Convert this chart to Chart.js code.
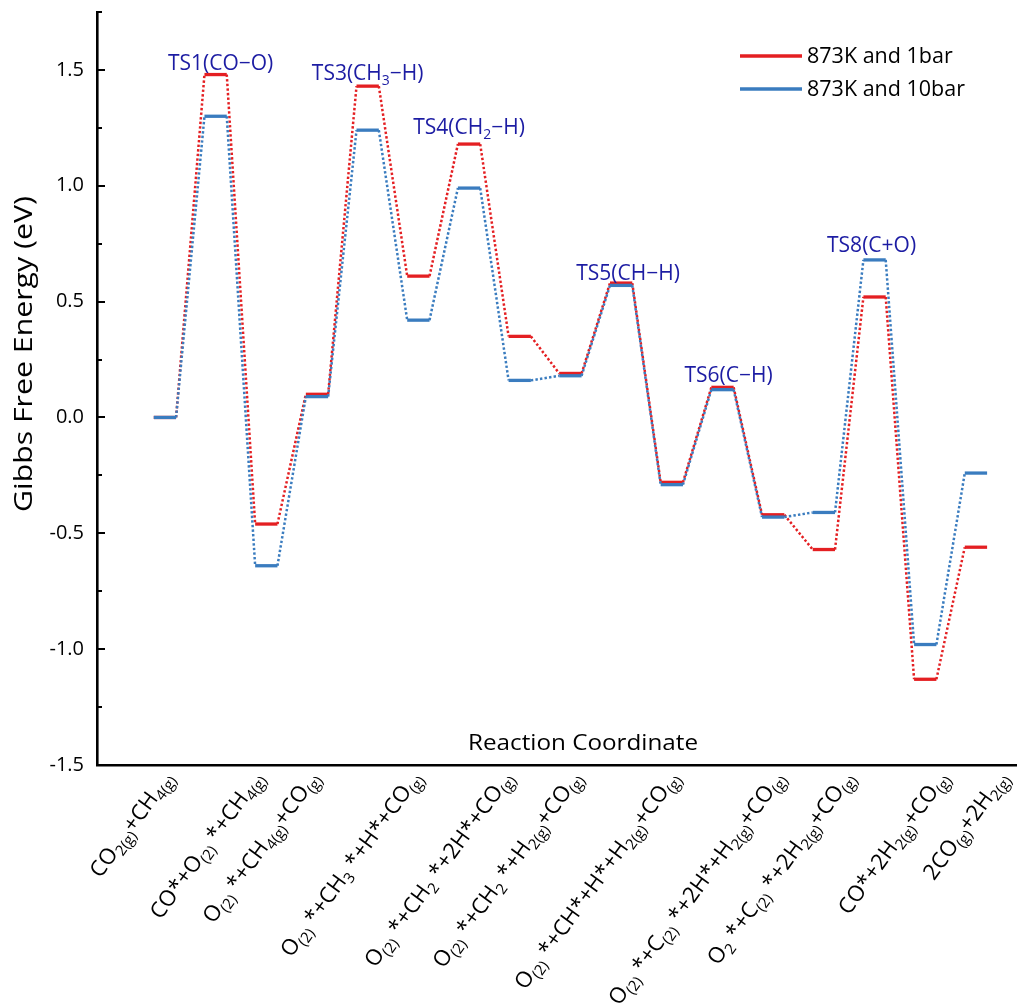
<!DOCTYPE html>
<html><head><meta charset="utf-8">
<script src="https://cdn.jsdelivr.net/npm/chart.js@4/dist/chart.umd.min.js"></script>
<style>html,body{margin:0;padding:0;background:#fff}#wrap{width:1017px;height:1005px}</style>
</head><body><div id="wrap"><canvas id="c" width="1017" height="1005"></canvas></div>
<script>
// ---------------- data ----------------
const stepLabels = [
  'CO_{2(g)}+CH_{4(g)}',
  'TS1(CO−O)',
  'CO*+O_{(2)} *+CH_{4(g)}',
  'O_{(2)} *+CH_{4(g)}+CO_{(g)}',
  'TS3(CH_3−H)',
  'O_{(2)} *+CH_3 *+H*+CO_{(g)}',
  'TS4(CH_2−H)',
  'O_{(2)} *+CH_2 *+2H*+CO_{(g)}',
  'O_{(2)} *+CH_2 *+H_{2(g)}+CO_{(g)}',
  'TS5(CH−H)',
  'O_{(2)} *+CH*+H*+H_{2(g)}+CO_{(g)}',
  'TS6(C−H)',
  'O_{(2)} *+C_{(2)} *+2H*+H_{2(g)}+CO_{(g)}',
  'O_2 *+C_{(2)} *+2H_{2(g)}+CO_{(g)}',
  'TS8(C+O)',
  'CO*+2H_{2(g)}+CO_{(g)}',
  '2CO_{(g)}+2H_{2(g)}'
];
const energy1bar  = [0.00, 1.48, -0.46, 0.10, 1.43, 0.61, 1.18, 0.35, 0.19, 0.58, -0.28, 0.13, -0.42, -0.57, 0.52, -1.13, -0.56];
const energy10bar = [0.00, 1.30, -0.64, 0.09, 1.24, 0.42, 0.99, 0.16, 0.18, 0.57, -0.29, 0.12, -0.43, -0.41, 0.68, -0.98, -0.24];
const seriesNames = ['873K and 1bar', '873K and 10bar'];
const yTickValues = [-1.5, -1.0, -0.5, 0.0, 0.5, 1.0, 1.5];
const yTitle = 'Gibbs Free Energy (eV)';
const xTitle = 'Reaction Coordinate';

// ---------------- style ----------------
const RED = '#e41f22', BLUE = '#3a7cbf', TSCOL = '#1c1ca3';
const FONT = '"Open Sans", "DejaVu Sans", sans-serif';
const HALF = 0.22;               // half width of an energy level (x units)
const labelDx = [7,0,-4,1,0,2,0,-8,10,0,6,0,10,29,0,22,31]; // nudges of state labels (px)
const tsOffset = {1:[5,-12],4:[0,-13],6:[0,-17],9:[7,-10],11:[6,-12],14:[-3,-15]};

function levelPoints(vals){
  const pts = [];
  vals.forEach((v,i)=>{ pts.push({x:i-HALF,y:v}); pts.push({x:i+HALF,y:v}); });
  return pts;
}
const segStyle = {
  borderDash: ctx => ctx.p0DataIndex % 2 === 0 ? [] : [2.4, 2.2],
  borderWidth: ctx => ctx.p0DataIndex % 2 === 0 ? 3.3 : 2.5
};

function parseRich(s){
  const parts=[]; let i=0, buf='';
  while(i<s.length){
    if(s[i]==='_'){
      if(buf){parts.push({t:buf,sub:false});buf='';}
      if(s[i+1]==='{'){const j=s.indexOf('}',i);parts.push({t:s.slice(i+2,j),sub:true});i=j+1;}
      else{parts.push({t:s[i+1],sub:true});i+=2;}
    } else {buf+=s[i];i++;}
  }
  if(buf)parts.push({t:buf,sub:false});
  return parts;
}
const SUBR = 0.66, SUBOFF = 0.22;
function richWidth(ctx,parts,size){
  let w=0;
  parts.forEach(p=>{ctx.font=(p.sub?Math.round(size*SUBR):size)+'px '+FONT;w+=ctx.measureText(p.t).width;});
  return w;
}
function drawRich(ctx,parts,x,y,size){
  let cx=x;
  ctx.textAlign='left';ctx.textBaseline='alphabetic';
  parts.forEach(p=>{
    ctx.font=(p.sub?Math.round(size*SUBR):size)+'px '+FONT;
    ctx.fillText(p.t,cx,y+(p.sub?size*SUBOFF:0));
    cx+=ctx.measureText(p.t).width;
  });
}
function fitText(ctx,text,x,y,size,target){
  ctx.font=size+'px '+FONT;
  const w=ctx.measureText(text).width;
  ctx.save();ctx.translate(x,y);ctx.scale(target/w,1);
  ctx.textAlign='center';ctx.textBaseline='alphabetic';
  ctx.fillText(text,0,0);ctx.restore();
}

const decor = {
  id:'decor',
  afterDraw(chart){
    const ctx=chart.ctx, xs=chart.scales.x, ys=chart.scales.y, ca=chart.chartArea;
    ctx.save();
    // y ticks (inward)
    ctx.strokeStyle='#000';ctx.lineWidth=2;
    for(let v=-1.5; v<=1.751; v+=0.25){
      const py=Math.round(ys.getPixelForValue(v));
      const major=Math.abs(v*2-Math.round(v*2))<1e-6;
      ctx.beginPath();ctx.moveTo(ca.left,py);ctx.lineTo(ca.left+(major?7:4)+1,py);ctx.stroke();
    }
    // titles
    ctx.fillStyle='#000';
    fitText(ctx,xTitle,583,750,21,230);
    ctx.save();ctx.translate(32,354);ctx.rotate(-Math.PI/2);
    fitText(ctx,yTitle,0,0,26,316);ctx.restore();
    // state labels (rotated)
    const ang=54*Math.PI/180, size=22;
    stepLabels.forEach((s,i)=>{
      if(s.startsWith('TS'))return;
      const parts=parseRich(s);
      const w=richWidth(ctx,parts,size);
      ctx.save();
      ctx.translate(xs.getPixelForValue(i)+labelDx[i]+2, ca.bottom+13);
      ctx.rotate(-ang);
      ctx.fillStyle='#000';
      drawRich(ctx,parts,-w,0,size);
      ctx.restore();
    });
    // TS labels
    stepLabels.forEach((s,i)=>{
      if(!s.startsWith('TS'))return;
      const parts=parseRich(s);const size=21;
      const w=richWidth(ctx,parts,size);
      const top=Math.max(energy1bar[i],energy10bar[i]);
      const off=tsOffset[i]||[0,-12];
      const px=xs.getPixelForValue(i)+off[0], py=ys.getPixelForValue(top)+off[1];
      ctx.fillStyle=TSCOL;
      drawRich(ctx,parts,px-w/2,py+7,size);
    });
    // legend
    const cols=[RED,BLUE], ly=[56,89];
    seriesNames.forEach((n,k)=>{
      ctx.strokeStyle=cols[k];ctx.lineWidth=3.3;
      ctx.beginPath();ctx.moveTo(740,ly[k]);ctx.lineTo(802,ly[k]);ctx.stroke();
      ctx.fillStyle='#000';ctx.font='21.5px '+FONT;ctx.textAlign='left';ctx.textBaseline='middle';
      ctx.fillText(n,807,ly[k]+1);
    });
    ctx.restore();
  }
};

new Chart(document.getElementById('c'),{
  type:'line',
  data:{datasets:[
    {label:seriesNames[0],data:levelPoints(energy1bar),borderColor:RED,backgroundColor:RED,pointRadius:0,order:1,segment:segStyle,borderCapStyle:'butt',tension:0},
    {label:seriesNames[1],data:levelPoints(energy10bar),borderColor:BLUE,backgroundColor:BLUE,pointRadius:0,order:0,segment:segStyle,borderCapStyle:'butt',tension:0}
  ]},
  options:{
    responsive:false,animation:false,devicePixelRatio:1,
    layout:{padding:{top:12,right:0,left:0,bottom:0}},
    plugins:{legend:{display:false},tooltip:{enabled:false}},
    scales:{
      x:{type:'linear',min:-1.34,max:16.81,
        ticks:{display:false},grid:{display:false,drawTicks:false},
        border:{display:true,color:'#000',width:2.6},
        afterFit(s){s.height=240;s.paddingLeft=0;s.paddingRight=0;}},
      y:{type:'linear',min:-1.5,max:1.75,
        afterBuildTicks(s){s.ticks=yTickValues.map(v=>({value:v}));},
        ticks:{color:'#000',font:{family:FONT,size:20},padding:13,
          callback:v=>Number(v).toFixed(1)},
        grid:{display:false,drawTicks:false},
        border:{display:true,color:'#000',width:2.6},
        afterFit(s){s.width=97;s.paddingTop=0;s.paddingBottom=0;}}
    }
  },
  plugins:[decor]
});
</script></body></html>
